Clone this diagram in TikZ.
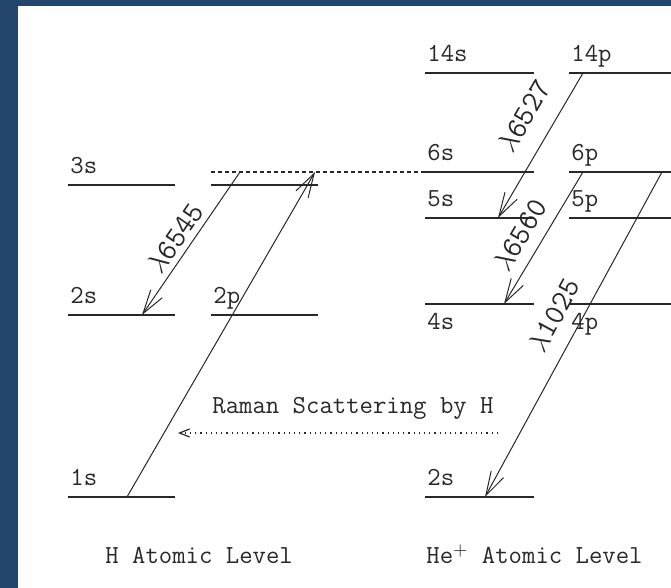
\documentclass[tikz,border=0pt]{standalone}
\usepackage{amsmath}
\usepackage{tikz}
\usetikzlibrary{arrows.meta,calc}

\definecolor{frameblue}{RGB}{36,70,108}
\definecolor{ink}{RGB}{40,40,40}

\tikzset{
  level/.style={line width=1pt, ink},
  trans/.style={line width=0.5pt, ink, -{Straight Barb[length=12pt,width=7pt]}},
  virt/.style={line width=0.7pt, ink, dash pattern=on 2pt off 1.5pt},
  lab/.style={font=\fontsize{13}{15}\selectfont\ttfamily, text=ink, inner sep=0pt},
  wave/.style={lab, font=\fontsize{15}{17}\selectfont\ttfamily},
}

\begin{document}
\begin{tikzpicture}[x=0.5pt,y=-0.5pt]
\useasboundingbox (0,0) rectangle (671,588);
\fill[frameblue] (0,0) rectangle (671,588);
\fill[white] (18,6) rectangle (671,588);

% levels: name/x/y/right end/label/baseline
\foreach \n/\x/\y/\e/\l/\b in {h3s/68/185/175/3s/174, h2s/68/315/175/2s/304, h2p/211/315/318/2p/304,
    h1s/68/497/175/1s/486, e14s/425/73/534/14s/62, e14p/569/73/671/14p/62,
    e6s/425/172/534/6s/161, e6p/569/172/671/6p/161, e5s/425/218/534/5s/207,
    e5p/569/218/671/5p/207, e4s/425/304/534/4s/330, e4p/569/304/671/4p/330, e2s/425/497/534/2s/486} {
  \draw[level] (\x,\y) -- (\e,\y);
  \node[lab, anchor=base west] (\n) at (\x+2,\b) {\l};
}
\draw[level] (211,185) -- (318,185);

% virtual level
\coordinate (vl) at (211,172);
\coordinate (vr) at (425,172);
\draw[virt] (vl) -- (vr);

% end points of the transitions
\coordinate (v1) at (240,172);
\coordinate (v2) at (315,172);
\coordinate (g1s) at (127,497);
\coordinate (g2s) at (142,315);
\coordinate (p14) at (583,73);
\coordinate (s5) at (498,218);
\coordinate (p6a) at (583,172);
\coordinate (s4) at (504,304);
\coordinate (p6b) at (662,172);
\coordinate (s2) at (485,497);

\draw[trans] (g1s) -- (v2);
\draw[trans] (v1) -- (g2s);
\draw[trans] (p14) -- (s5);
\draw[trans] (p6a) -- (s4);
\draw[trans] (p6b) -- (s2);

\node[wave, rotate=55.6] (l6545) at (175,238) {$\lambda$6545};
\node[wave, rotate=59.6] (l6527) at (524,116) {$\lambda$6527};
\node[wave, rotate=59.2] (l6560) at (520,235) {$\lambda$6560};
\node[wave, rotate=61.4] (l1025) at (554,315) {$\lambda$1025};

% Raman scattering
\node[lab, anchor=base west] (raman) at (212,414) {Raman Scattering by H};
\coordinate (rs) at (498,433);
\coordinate (re) at (178,433);
\draw[ink, line width=0.6pt, dotted, -{Straight Barb[length=5pt,width=4pt]}] (rs) -- (re);

\node[lab, anchor=base west] (hlev) at (105,564) {H Atomic Level};
\node[lab, anchor=base west] (helev) at (426,564) {He$^+$ Atomic Level};
\end{tikzpicture}
\end{document}
